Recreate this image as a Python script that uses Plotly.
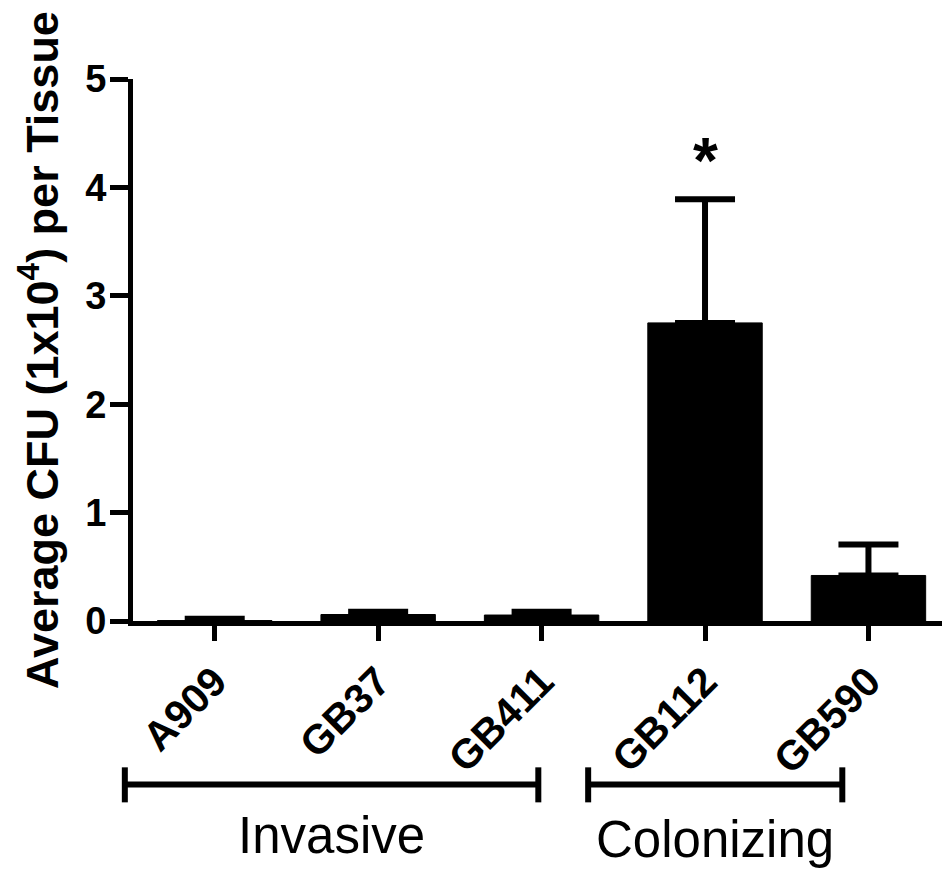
import plotly.graph_objects as go

# Strains and their group membership
strains = ["A909", "GB37", "GB411", "GB112", "GB590"]
mean_cfu = [0.004, 0.06, 0.055, 2.75, 0.42]        # average CFU (x10^4) per tissue
sem_cfu = [0.016, 0.025, 0.03, 1.14, 0.285]         # upper error (SEM)
y_ticks = [0, 1, 2, 3, 4, 5]
groups = [("Invasive", -0.55, 1.98), ("Colonizing", 2.285, 3.84)]
significance = [("GB112", "*")]

FONT = "Liberation Sans, Arial, sans-serif"
X_RANGE = [-0.5, 4.45]


def to_paper_x(v):
    # category position -> paper fraction, so bracket shapes are not clipped
    return (v - X_RANGE[0]) / (X_RANGE[1] - X_RANGE[0])


fig = go.Figure()

fig.add_trace(go.Bar(
    x=list(range(len(strains))),
    y=mean_cfu,
    width=0.70,
    marker=dict(color="black", line=dict(color="black", width=1)),
    error_y=dict(type="data", symmetric=False, array=sem_cfu,
                 arrayminus=[0] * len(sem_cfu),
                 color="black", thickness=6, width=30),
    showlegend=False,
))

fig.update_xaxes(
    range=X_RANGE,
    tickvals=list(range(len(strains))),
    ticktext=strains,
    tickangle=-45,
    tickfont=dict(family=FONT, size=41, color="black", weight="bold"),
    showline=True, linecolor="black", linewidth=5,
    ticks="outside", ticklen=15, tickwidth=5, tickcolor="black",
    showgrid=False, zeroline=False,
)
fig.update_yaxes(
    range=[0, 5],
    tickvals=y_ticks,
    tickfont=dict(family=FONT, size=38, color="black", weight="bold"),
    showline=True, linecolor="black", linewidth=5,
    ticks="outside", ticklen=18, tickwidth=5, tickcolor="black",
    ticklabelstandoff=-4,
    showgrid=False, zeroline=False,
    title=dict(text="Average CFU (1x10<sup>4</sup>) per Tissue",
               font=dict(family=FONT, size=45, color="black", weight="bold"),
               standoff=14),
)

# group brackets beneath the category labels
bar_y, cap_top, cap_bot = -0.3015, -0.270, -0.3346
label_y = {"Invasive": -0.395, "Colonizing": -0.404}
for name, x0, x1 in groups:
    px0, px1 = to_paper_x(x0), to_paper_x(x1)
    fig.add_shape(type="line", xref="paper", yref="paper", x0=px0, x1=px1,
                  y0=bar_y, y1=bar_y, line=dict(color="black", width=6))
    for xe in (px0, px1):
        fig.add_shape(type="line", xref="paper", yref="paper", x0=xe, x1=xe,
                      y0=cap_top, y1=cap_bot, line=dict(color="black", width=6))
    fig.add_annotation(x=(px0 + px1) / 2, y=label_y[name], xref="paper", yref="paper",
                       text=name, showarrow=False, xanchor="center", yanchor="middle",
                       font=dict(family=FONT, size=51, color="black"))

# significance marker above the error bar
for strain, mark in significance:
    i = strains.index(strain)
    fig.add_annotation(x=i, y=mean_cfu[i] + sem_cfu[i], xref="x", yref="y",
                       text=mark, showarrow=False, yanchor="bottom", yshift=0,
                       font=dict(family=FONT, size=64, color="black", weight="bold"))

fig.update_layout(
    width=942, height=874,
    margin=dict(l=133, r=0, t=79, b=253),
    paper_bgcolor="white", plot_bgcolor="white",
)

fig.write_html("out.html")
